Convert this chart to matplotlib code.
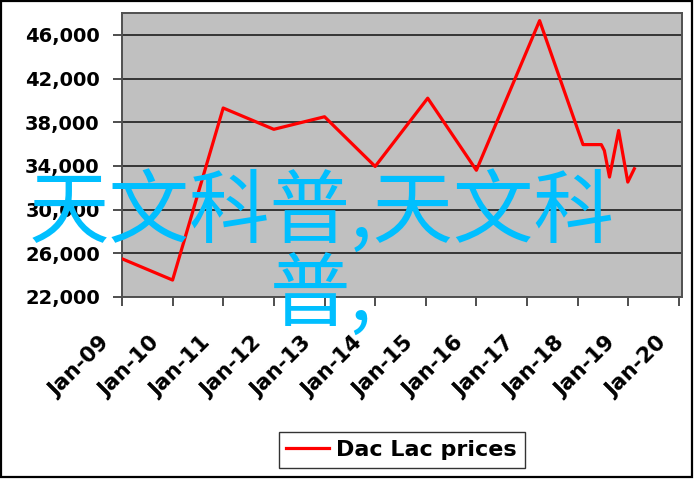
import pandas as pd
import matplotlib.pyplot as plt
import matplotlib.dates as mdates
import matplotlib.transforms as mtransforms
from matplotlib.patches import Rectangle

# Data
dates = ["2009-01-01", "2010-01-01", "2011-01-01", "2012-01-01", "2013-01-01",
         "2014-01-01", "2015-01-15", "2016-01-01", "2017-04-01", "2018-02-08",
         "2018-06-20", "2018-07-12", "2018-08-18", "2018-10-23", "2018-12-28",
         "2019-02-13"]
prices = [25500, 23550, 39300, 37350, 38500,
          33950, 40200, 33600, 47300, 35950,
          35950, 35400, 32980, 37240, 32520,
          33740]
years = list(range(2009, 2021))
y_ticks = [22000, 26000, 30000, 34000, 38000, 42000, 46000]
series_name = "Dac Lac prices"
overlay_line1 = "天文科普,天文科"
overlay_line2 = "普,"

x = pd.to_datetime(dates)

fig = plt.figure(figsize=(6.95, 4.79), dpi=100)
ax = fig.add_axes([0.1755, 0.38, 0.8058, 0.5929])
ax.set_facecolor("#C0C0C0")

ax.plot(x, prices, color="#FF0000", linewidth=2.3, label=series_name, zorder=3)

# ---------------- AXES ----------------
ax.set_ylim(22000, 48000)
ax.set_yticks(y_ticks)
ax.yaxis.set_major_formatter(plt.FuncFormatter(lambda v, p: f"{int(v):,}"))
ax.set_xlim(pd.Timestamp("2009-01-01"), pd.Timestamp("2020-01-23"))
ax.set_xticks(pd.to_datetime([f"{y}-01-01" for y in years]))
ax.xaxis.set_major_formatter(mdates.DateFormatter("%b-%y"))

ax.grid(axis="y", color="#2a2a2a", linewidth=1.3)
ax.set_axisbelow(True)
for s in ax.spines.values():
    s.set_color("#505050")
    s.set_linewidth(1.4)

ax.tick_params(axis="y", direction="out", length=6.5, width=1.2, color="#303030",
               pad=9.5, labelsize=14)
ax.tick_params(axis="x", direction="out", length=6.5, width=1.2, color="#303030",
               pad=19.5, labelsize=15.5)
for lab in ax.get_yticklabels():
    lab.set_fontweight("bold")
shift = mtransforms.ScaledTranslation(-9 / 100, 0, fig.dpi_scale_trans)
for lab in ax.get_xticklabels():
    lab.set_fontweight("bold")
    lab.set_rotation(45)
    lab.set_ha("right")
    lab.set_va("top")
    lab.set_transform(lab.get_transform() + shift)

# ---------------- LEGEND ----------------
leg = fig.legend(loc="center", bbox_to_anchor=(0.578, 0.0605),
                 prop={"weight": "bold", "size": 16}, frameon=True,
                 fancybox=False, handlelength=1.9, handletextpad=0.35,
                 borderpad=0.35, borderaxespad=0)
leg.get_frame().set_edgecolor("black")
leg.get_frame().set_linewidth(1.0)

# ---------------- OVERLAY TEXT ----------------
cjk = ["Noto Sans CJK SC", "DejaVu Sans"]
fig.text(0.462, 0.505, overlay_line1, family=cjk, fontsize=58, color="#00BFFF",
         ha="center", va="baseline", zorder=10)
fig.text(0.462, 0.330, overlay_line2, family=cjk, fontsize=58, color="#00BFFF",
         ha="center", va="baseline", zorder=10)

# outer frame
fig.patches.append(Rectangle((0.0015, 0.004), 0.994, 0.994, transform=fig.transFigure,
                             fill=False, edgecolor="black", linewidth=1.6))

fig.savefig("out.png", dpi=100)
